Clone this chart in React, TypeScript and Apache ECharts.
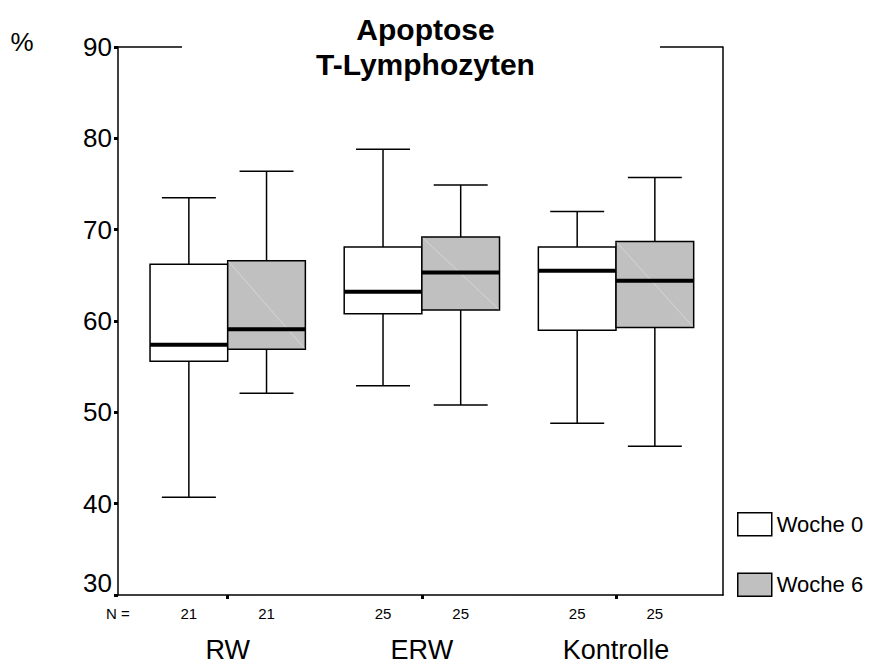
import React, { useEffect, useRef } from "react";
import * as echarts from "echarts";

// ---- data ----
const categories = ["RW", "ERW", "Kontrolle"];
const seriesNames = ["Woche 0", "Woche 6"];
// [min, Q1, median, Q3, max]
const woche0Stats = [
  [40.7, 55.6, 57.4, 66.2, 73.5],
  [52.9, 60.8, 63.2, 68.1, 78.8],
  [48.8, 59.0, 65.5, 68.1, 72.0],
];
const woche6Stats = [
  [52.1, 56.9, 59.1, 66.6, 76.4],
  [50.8, 61.2, 65.3, 69.2, 74.9],
  [46.3, 59.3, 64.4, 68.7, 75.7],
];
const woche0N = [21, 25, 25];
const woche6N = [21, 25, 25];
const yTicks = [30, 40, 50, 60, 70, 80, 90];

const FONT = "Arial, 'Liberation Sans', sans-serif";
const GRID_LEFT = 118;
const GRID_RIGHT_X = 723;
const GRID_TOP = 47;
const GRID_BOTTOM_Y = 595;
const X_MIN = -0.565;
const X_MAX = 2.551;
const BOX_HALF = 0.2;
const CAP_HALF = 0.139;

function makeSeries(
  name: string,
  stats: number[][],
  ns: number[],
  offset: number,
  fill: string,
  diag: boolean
) {
  return {
    type: "custom",
    name,
    clip: false,
    itemStyle: { color: fill, borderColor: "#000", borderWidth: 1.5 },
    data: stats.map((s, i) => [i, s[0], s[1], s[2], s[3], s[4], ns[i]]),
    encode: { x: 0, y: [1, 2, 3, 4, 5] },
    renderItem: (params: any, api: any) => {
      const xc = api.value(0) + offset;
      const mn = api.value(1);
      const q1 = api.value(2);
      const md = api.value(3);
      const q3 = api.value(4);
      const mx = api.value(5);
      const n = api.value(6);
      const pc = (v: number) => api.coord([xc, v]);
      const xl = api.coord([xc - BOX_HALF, md])[0];
      const xr = api.coord([xc + BOX_HALF, md])[0];
      const cl = api.coord([xc - CAP_HALF, md])[0];
      const cr = api.coord([xc + CAP_HALF, md])[0];
      const cx = pc(md)[0];
      const yMin = pc(mn)[1];
      const yQ1 = pc(q1)[1];
      const yMd = pc(md)[1];
      const yQ3 = pc(q3)[1];
      const yMax = pc(mx)[1];
      const yBase = api.coord([xc, 30])[1];
      const line = (x1: number, y1: number, x2: number, y2: number, w: number, c = "#000") => ({
        type: "line",
        shape: { x1, y1, x2, y2 },
        style: { stroke: c, lineWidth: w },
      });
      const children: any[] = [
        line(cx, yMax, cx, yQ3, 1.5),
        line(cl, yMax, cr, yMax, 1.5),
        line(cx, yQ1, cx, yMin, 1.5),
        line(cl, yMin, cr, yMin, 1.5),
        {
          type: "rect",
          shape: { x: xl, y: yQ3, width: xr - xl, height: yQ1 - yQ3 },
          style: { fill, stroke: "#000", lineWidth: 1.5 },
        },
      ];
      if (diag) children.push(line(xl + 1, yQ3 + 1, xr - 1, yQ1 - 1, 0.8, "#dadada"));
      children.push(line(xl, yMd, xr, yMd, 4));
      children.push({
        type: "text",
        style: {
          text: String(n),
          x: cx,
          y: yBase + 18,
          fill: "#000",
          fontSize: 15,
          fontFamily: FONT,
          align: "center",
          verticalAlign: "middle",
        },
      });
      return { type: "group", children };
    },
  };
}

export default function App() {
  const ref = useRef<HTMLDivElement>(null);
  useEffect(() => {
    if (!ref.current) return;
    const chart = echarts.init(ref.current, undefined, { renderer: "svg" });
    const option: any = {
      animation: false,
      backgroundColor: "#fff",
      title: {
        text: "Apoptose\nT-Lymphozyten",
        left: (GRID_LEFT + GRID_RIGHT_X) / 2,
        textAlign: "center",
        top: 7,
        textStyle: {
          fontFamily: FONT,
          fontWeight: "bold",
          fontSize: 30,
          lineHeight: 35,
          color: "#000",
        },
      },
      grid: {
        left: GRID_LEFT,
        right: 870 - GRID_RIGHT_X,
        top: GRID_TOP,
        bottom: 664 - GRID_BOTTOM_Y,
      },
      legend: {
        orient: "vertical",
        left: 737,
        top: 512,
        padding: 0,
        itemWidth: 34,
        itemHeight: 23,
        itemGap: 36,
        selectedMode: false,
        textStyle: { fontSize: 22, color: "#000", fontFamily: FONT },
        data: [
          { name: seriesNames[0], icon: "rect", itemStyle: { color: "#fff", borderColor: "#000", borderWidth: 1.5 } },
          { name: seriesNames[1], icon: "rect", itemStyle: { color: "#c0c0c0", borderColor: "#000", borderWidth: 1.5 } },
        ],
      },
      xAxis: {
        type: "value",
        min: X_MIN,
        max: X_MAX,
        splitLine: { show: false },
        axisLine: { show: true, onZero: false, lineStyle: { color: "#000", width: 1.5 } },
        axisTick: {
          show: true,
          customValues: [0, 1, 2],
          length: 4,
          lineStyle: { color: "#000", width: 3 },
        },
        axisLabel: {
          customValues: [0, 1, 2],
          formatter: (v: number) => categories[Math.round(v)] ?? "",
          fontSize: 27,
          fontFamily: FONT,
          color: "#000",
          margin: 41,
        },
      },
      yAxis: [
        {
          type: "value",
          min: yTicks[0],
          max: yTicks[yTicks.length - 1],
          interval: 10,
          position: "left",
          splitLine: { show: false },
          axisLine: { show: true, onZero: false, lineStyle: { color: "#000", width: 1.5 } },
          axisTick: { show: true, length: 4, lineStyle: { color: "#000", width: 3 } },
          axisLabel: {
            fontSize: 26,
            fontFamily: FONT,
            color: "#000",
            margin: 6,
            formatter: (v: number) => (v === yTicks[0] ? "{low|" + v + "}" : String(v)),
            rich: {
              low: { fontSize: 26, fontFamily: FONT, color: "#000", padding: [0, 0, 24, 0] },
            },
          },
        },
        {
          type: "value",
          min: yTicks[0],
          max: yTicks[yTicks.length - 1],
          interval: 10,
          position: "right",
          splitLine: { show: false },
          axisLine: { show: true, onZero: false, lineStyle: { color: "#000", width: 1.5 } },
          axisTick: { show: false },
          axisLabel: { show: false },
        },
      ],
      graphic: [
        {
          type: "line",
          shape: { x1: GRID_LEFT, y1: GRID_TOP, x2: 182, y2: GRID_TOP },
          style: { stroke: "#000", lineWidth: 1.5 },
        },
        {
          type: "line",
          shape: { x1: 660, y1: GRID_TOP, x2: GRID_RIGHT_X, y2: GRID_TOP },
          style: { stroke: "#000", lineWidth: 1.5 },
        },
        {
          type: "text",
          style: { text: "%", x: 22, y: 42, fontSize: 26, fontFamily: FONT, fill: "#000", align: "center", verticalAlign: "middle" },
        },
        {
          type: "text",
          style: { text: "N =", x: 118, y: GRID_BOTTOM_Y + 18, fontSize: 15, fontFamily: FONT, fill: "#000", align: "center", verticalAlign: "middle" },
        },
      ],
      series: [
        makeSeries(seriesNames[0], woche0Stats, woche0N, -BOX_HALF, "#ffffff", false),
        makeSeries(seriesNames[1], woche6Stats, woche6N, BOX_HALF, "#c0c0c0", true),
      ],
    };
    chart.setOption(option);
    return () => chart.dispose();
  }, []);
  return (
    <div
      ref={ref}
      style={{ position: "fixed", left: 0, top: 0, width: 870, height: 664 }}
    />
  );
}
